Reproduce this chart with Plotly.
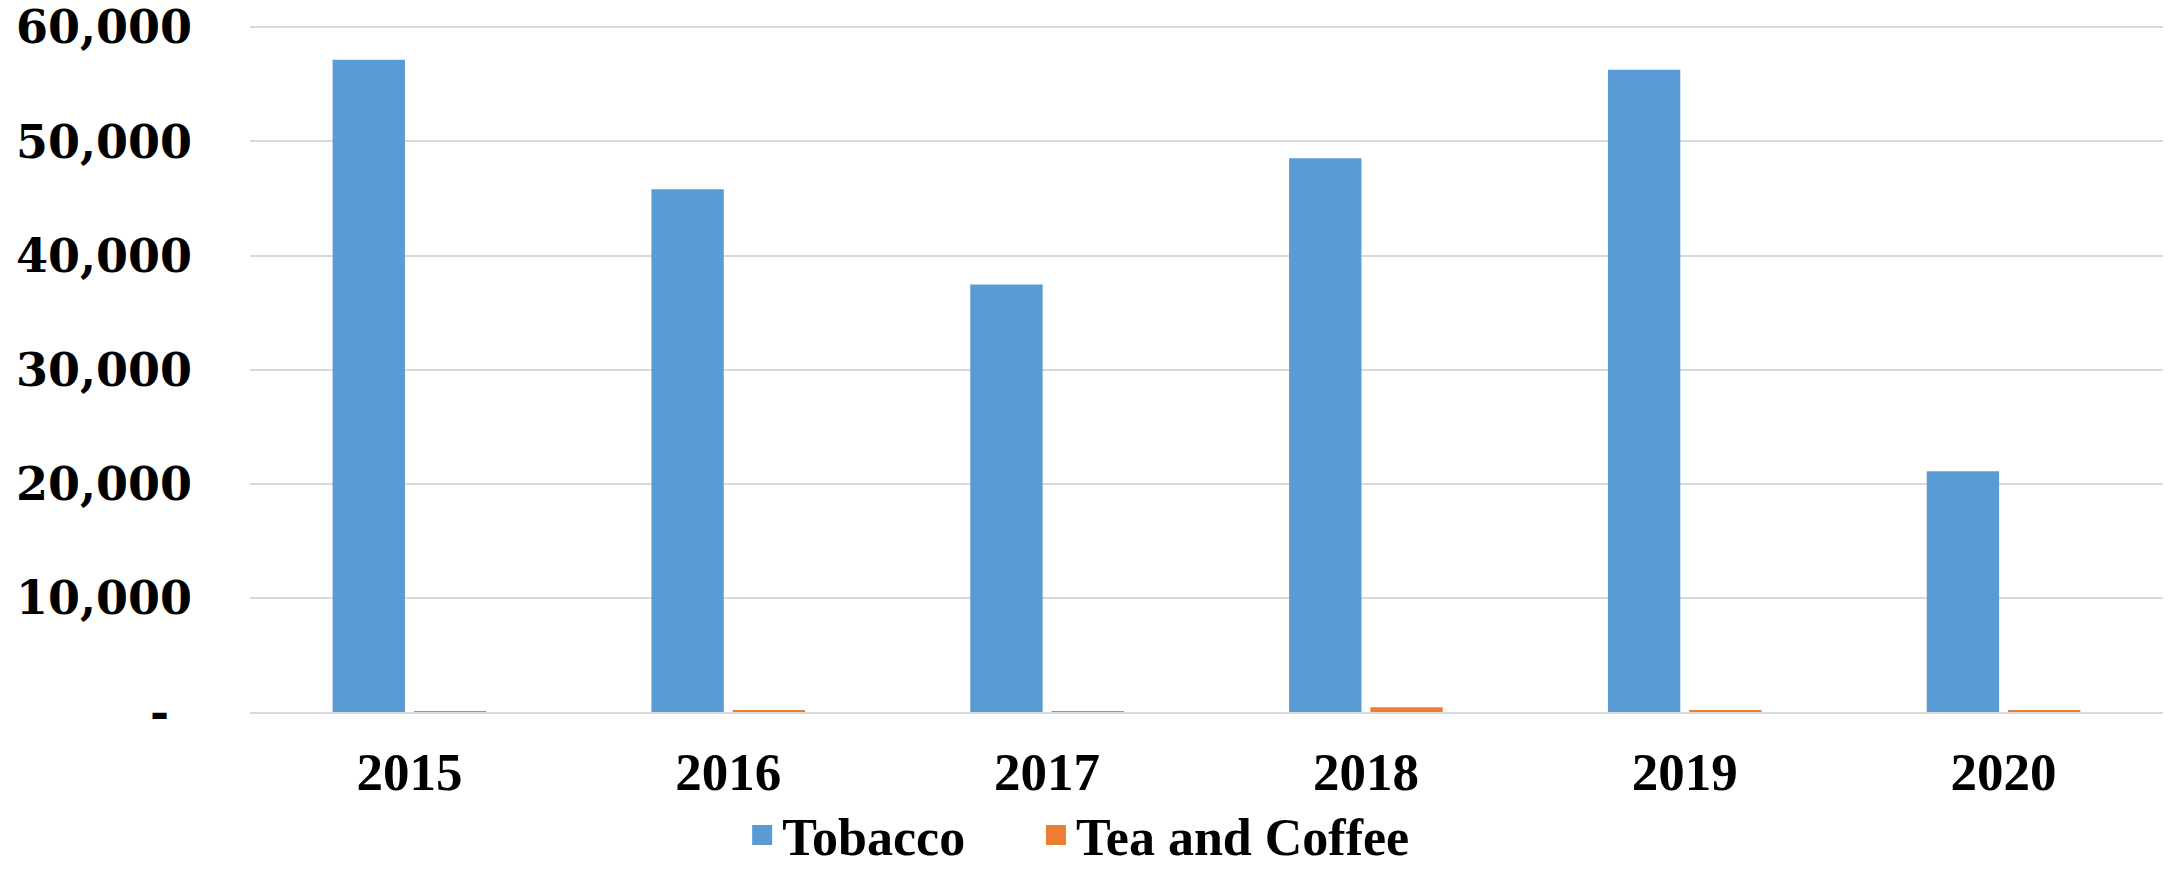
import plotly.graph_objects as go

years = ["2015", "2016", "2017", "2018", "2019", "2020"]
tobacco = [57160, 45800, 37460, 48520, 56280, 21090]
tea_coffee = [80, 150, 50, 420, 120, 100]

series_names = ["Tobacco", "Tea and Coffee"]
series_colors = ["#5B9BD5", "#ED7D31"]
legend_ids = ["legend", "legend2"]

y_tickvals = [0, 10000, 20000, 30000, 40000, 50000, 60000]
y_ticktext = ["-\u2002", "10,000", "20,000", "30,000", "40,000", "50,000", "60,000"]

fig = go.Figure()
for name, vals, col, lg in zip(series_names, [tobacco, tea_coffee], series_colors, legend_ids):
    fig.add_trace(go.Bar(name=name, x=years, y=vals, marker_color=col,
                         marker_line_width=0, showlegend=False, legendgroup=name))
    # legend swatch
    fig.add_trace(go.Scatter(name=name, x=[None], y=[None], mode="markers",
                             marker=dict(symbol="square", size=16, color=col,
                                         line=dict(color=col, width=4)),
                             showlegend=True, legendgroup=name, legend=lg))

legend_font = dict(family="Liberation Serif", size=52, color="black", weight="bold")
common = dict(orientation="h", xref="container", xanchor="left",
              yref="container", y=0.039, yanchor="middle",
              font=legend_font, itemsizing="trace", itemwidth=30,
              bgcolor="rgba(0,0,0,0)")

fig.update_layout(
    width=2170, height=869,
    margin=dict(l=250, r=7, t=25, b=157, autoexpand=False),
    paper_bgcolor="white", plot_bgcolor="white",
    barmode="group", bargap=0.49, bargroupgap=0.11,
    showlegend=True,
    legend=dict(x=0.342, **common),
    legend2=dict(x=0.4774, **common),
    xaxis=dict(type="category", showgrid=False, showline=True, linecolor="#d9d9d9",
               linewidth=2, ticks="", ticklabelstandoff=12, automargin=False,
               tickfont=dict(family="Liberation Serif", size=53, color="black", weight="bold")),
    yaxis=dict(range=[0, 60200], tickvals=y_tickvals, ticktext=y_ticktext,
               showgrid=True, gridcolor="#d9d9d9", gridwidth=1.5, zeroline=False,
               showline=False, ticks="", ticklabelstandoff=57, automargin=False,
               tickfont=dict(family="DejaVu Serif", size=46, color="black", weight="bold")),
)

fig.write_html("out.html")
